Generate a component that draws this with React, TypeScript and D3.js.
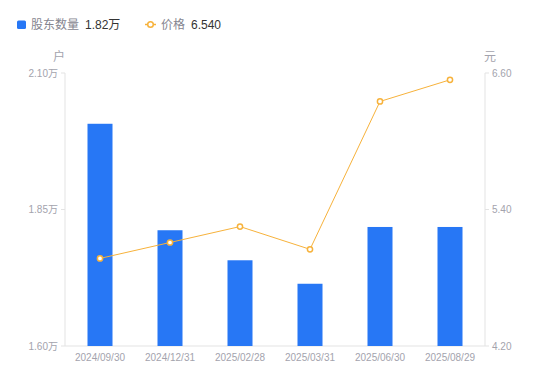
import React from "react";
import * as d3 from "d3";

const categories = ["2024/09/30", "2024/12/31", "2025/02/28", "2025/03/31", "2025/06/30", "2025/08/29"];
const holders = [2.007, 1.812, 1.757, 1.714, 1.818, 1.818];
const prices = [4.97, 5.11, 5.25, 5.05, 6.35, 6.54];
const leftTicks = [1.6, 1.85, 2.1];
const rightTicks = [4.2, 5.4, 6.6];

const W = 550;
const H = 381;
const margin = { left: 65, right: 65, top: 73, bottom: 35 };
const FONT = "'Liberation Sans', 'Noto Sans CJK SC', sans-serif";
const BLUE = "#2777f5";
const ORANGE = "#f7b23b";
const AXIS = "#e3e3e3";
const LABEL = "#a3a3ad";

export default function App() {
  const x = d3
    .scaleBand<string>()
    .domain(categories)
    .range([margin.left, W - margin.right])
    .paddingInner(0)
    .paddingOuter(0);
  const yL = d3.scaleLinear().domain([1.6, 2.1]).range([H - margin.bottom, margin.top]);
  const yR = d3.scaleLinear().domain([4.2, 6.6]).range([H - margin.bottom, margin.top]);
  const barW = 25;
  const cx = (c: string) => (x(c) as number) + x.bandwidth() / 2;
  const line = d3
    .line<number>()
    .x((_, i) => cx(categories[i]))
    .y((d) => yR(d));
  const x0 = margin.left;
  const x1 = W - margin.right;
  const yb = H - margin.bottom;

  return (
    <svg
      width={W}
      height={H}
      style={{ position: "absolute", left: 0, top: 0, background: "#fff" }}
      fontFamily={FONT}
    >
      {/* legend */}
      <rect x={17} y={20.5} width={9} height={8.5} rx={1.5} fill={BLUE} />
      <text x={31} y={29} fontSize={12} fill="#85858f">股东数量</text>
      <text x={85} y={29} fontSize={12} fill="#333">1.82万</text>
      <line x1={145} x2={156} y1={24.5} y2={24.5} stroke={ORANGE} strokeWidth={1.5} />
      <circle cx={150.5} cy={24.5} r={2.8} fill="#fff" stroke={ORANGE} strokeWidth={1.5} />
      <text x={161} y={29} fontSize={12} fill="#85858f">价格</text>
      <text x={191} y={29} fontSize={12} fill="#333">6.540</text>

      {/* unit labels */}
      <text x={59} y={61} fontSize={12} fill={LABEL} textAnchor="middle">户</text>
      <text x={490} y={61} fontSize={12} fill={LABEL} textAnchor="middle">元</text>

      {/* axes */}
      <line x1={x0} x2={x0} y1={margin.top} y2={yb} stroke={AXIS} />
      <line x1={x1} x2={x1} y1={margin.top} y2={yb} stroke={AXIS} />
      <line x1={x0} x2={x1} y1={yb} y2={yb} stroke={AXIS} />
      {leftTicks.map((t) => (
        <g key={"l" + t}>
          <line x1={x0 - 4} x2={x0} y1={yL(t)} y2={yL(t)} stroke={AXIS} />
          <text x={x0 - 7} y={yL(t) + 3.5} fontSize={10} fill={LABEL} textAnchor="end">
            {t.toFixed(2) + "万"}
          </text>
        </g>
      ))}
      {rightTicks.map((t) => (
        <g key={"r" + t}>
          <line x1={x1} x2={x1 + 4} y1={yR(t)} y2={yR(t)} stroke={AXIS} />
          <text x={x1 + 7} y={yR(t) + 3.5} fontSize={10} fill={LABEL} textAnchor="start">
            {t.toFixed(2)}
          </text>
        </g>
      ))}
      {categories.map((c) => (
        <text key={c} x={cx(c)} y={yb + 15} fontSize={10} fill={LABEL} textAnchor="middle">
          {c}
        </text>
      ))}

      {/* bars */}
      {holders.map((v, i) => (
        <rect
          key={i}
          x={cx(categories[i]) - barW / 2}
          y={yL(v)}
          width={barW}
          height={yb - yL(v)}
          fill={BLUE}
        />
      ))}

      {/* price line */}
      <path d={line(prices) || ""} fill="none" stroke={ORANGE} strokeWidth={1} />
      {prices.map((p, i) => (
        <circle
          key={i}
          cx={cx(categories[i])}
          cy={yR(p)}
          r={2.6}
          fill="#fff"
          stroke={ORANGE}
          strokeWidth={1.5}
        />
      ))}
    </svg>
  );
}
